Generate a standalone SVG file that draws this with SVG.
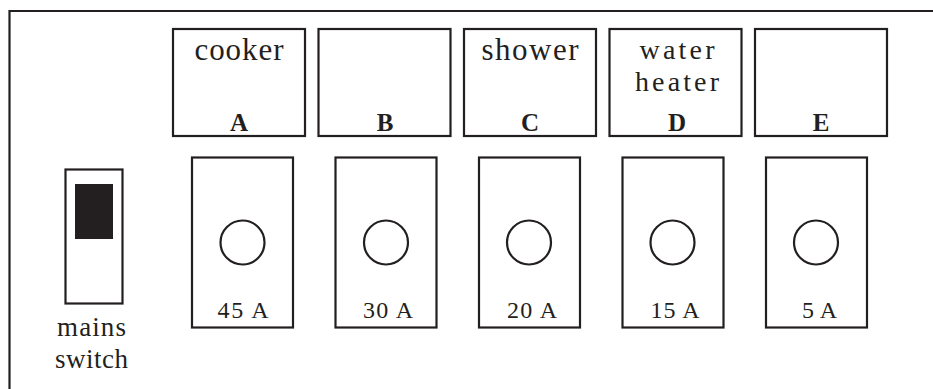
<svg xmlns="http://www.w3.org/2000/svg" width="933" height="389" viewBox="0 0 933 389">
<style>
.ln{fill:none;stroke:#231f20;stroke-width:2.2}
.box{fill:#fff;stroke:#231f20;stroke-width:2.2}
text{font-family:"Liberation Serif","Times New Roman","DejaVu Serif",serif;fill:#231f20;text-anchor:middle}
.nm{font-size:31px}
.nm2{font-size:28px}
.lt{font-size:25px;font-weight:bold}
.amp{font-size:24px}
.ms{font-size:27px}
</style>
<rect width="933" height="389" fill="#fff"/>
<path class="ln" d="M9.5 389 V11 H933" stroke-width="2.5"/>
<g id="appliance-A"><rect class="box" x="173" y="29" width="132" height="107"/><text class="nm" x="239" y="60" textLength="89">cooker</text><text class="lt" x="239" y="131">A</text></g>
<g id="appliance-B"><rect class="box" x="318.5" y="29" width="132" height="107"/><text class="lt" x="385" y="131">B</text></g>
<g id="appliance-C"><rect class="box" x="464" y="29" width="132" height="107"/><text class="nm" x="530" y="60" textLength="97">shower</text><text class="lt" x="530" y="131">C</text></g>
<g id="appliance-D"><rect class="box" x="609.5" y="29" width="132" height="107"/><text class="nm2" x="677" y="59" textLength="75">water</text><text class="nm2" x="677" y="91" textLength="84">heater</text><text class="lt" x="677" y="131">D</text></g>
<g id="appliance-E"><rect class="box" x="755" y="29" width="132" height="107"/><text class="lt" x="821" y="131">E</text></g>
<g id="mains-switch"><rect class="box" x="65.5" y="169.5" width="57" height="134"/><rect x="75" y="184" width="38" height="55" fill="#231f20"/><text class="ms" x="91.5" y="336" textLength="69">mains</text><text class="ms" x="91.5" y="368" textLength="73">switch</text></g>
<g id="fuse-45"><rect class="box" x="192" y="157.5" width="101" height="170"/><circle class="ln" cx="242.5" cy="242.5" r="22"/><text class="amp" x="243" y="318" textLength="51">45 A</text></g>
<g id="fuse-30"><rect class="box" x="335.5" y="157.5" width="101" height="170"/><circle class="ln" cx="386" cy="242.5" r="22"/><text class="amp" x="388" y="318" textLength="50">30 A</text></g>
<g id="fuse-20"><rect class="box" x="479" y="157.5" width="101" height="170"/><circle class="ln" cx="529" cy="242.5" r="22"/><text class="amp" x="532" y="318" textLength="50">20 A</text></g>
<g id="fuse-15"><rect class="box" x="622.5" y="157.5" width="101" height="170"/><circle class="ln" cx="672.5" cy="242.5" r="22"/><text class="amp" x="675" y="318" textLength="49">15 A</text></g>
<g id="fuse-5"><rect class="box" x="766" y="157.5" width="101" height="170"/><circle class="ln" cx="816" cy="242.5" r="22"/><text class="amp" x="819.5" y="318" textLength="35">5 A</text></g>
<g id="connectors"/>
</svg>
